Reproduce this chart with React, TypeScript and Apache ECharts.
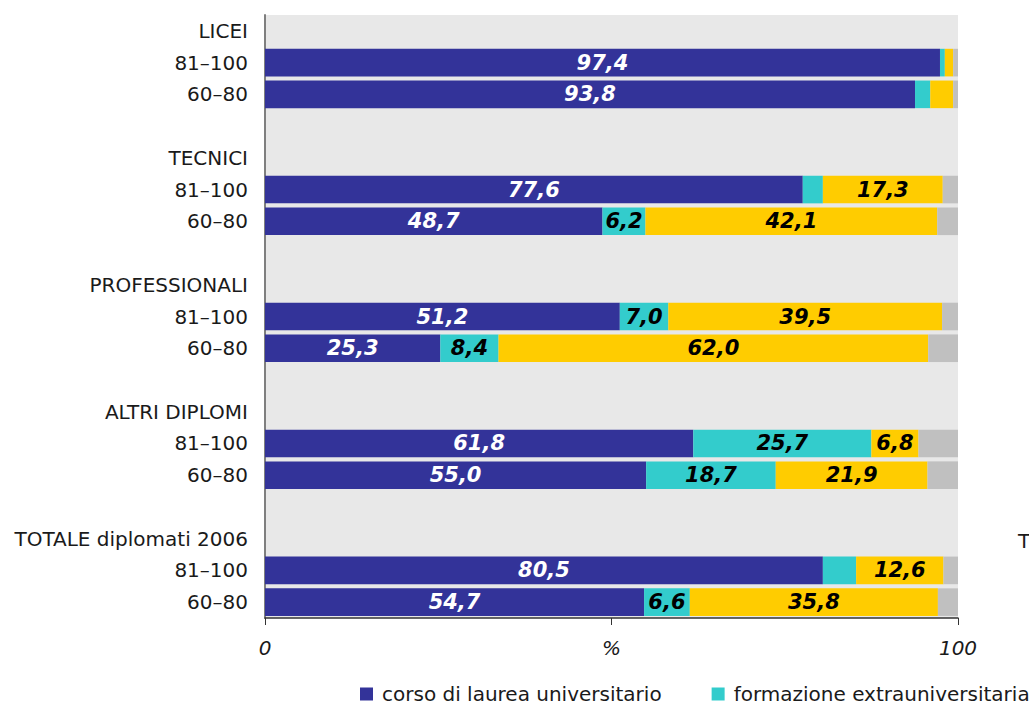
import React, { useEffect, useRef } from "react";
import * as echarts from "echarts";

const categories = [
  "LICEI", "81–100", "60–80", " ",
  "TECNICI", "81–100 ", "60–80 ", "  ",
  "PROFESSIONALI", "81–100  ", "60–80  ", "   ",
  "ALTRI DIPLOMI", "81–100   ", "60–80   ", "    ",
  "TOTALE diplomati 2006", "81–100    ", "60–80    ",
];

const N = null;
const universita = [N, 97.4, 93.8, N, N, 77.6, 48.7, N, N, 51.2, 25.3, N, N, 61.8, 55.0, N, N, 80.5, 54.7];
const formazione = [N, 0.7, 2.2, N, N, 2.9, 6.2, N, N, 7.0, 8.4, N, N, 25.7, 18.7, N, N, 4.8, 6.6];
const lavoro = [N, 1.2, 3.3, N, N, 17.3, 42.1, N, N, 39.5, 62.0, N, N, 6.8, 21.9, N, N, 12.6, 35.8];
const nonIndica = [N, 0.7, 0.7, N, N, 2.2, 3.0, N, N, 2.3, 4.3, N, N, 5.7, 4.4, N, N, 2.1, 2.9];

const seriesNames = [
  "corso di laurea universitario",
  "formazione extrauniversitaria",
  "lavoro",
  "non indica",
];
const colors = ["#333399", "#33CCCC", "#FFCC00", "#C0C0C0"];
const xTickLabels: Record<number, string> = { 0: "0", 50: "%", 100: "100" };

const FONT = "'DejaVu Sans', Verdana, sans-serif";

function fmt(v: number) {
  return v.toFixed(1).replace(".", ",");
}

export default function App() {
  const ref = useRef<HTMLDivElement>(null);
  useEffect(() => {
    if (!ref.current) return;
    const chart = echarts.init(ref.current, undefined, { renderer: "svg" });
    const mk = (idx: number, data: (number | null)[], labelColor: string, minLabel: number, showLabel: boolean) => ({
      name: seriesNames[idx],
      type: "bar",
      stack: "total",
      data,
      barWidth: "87%",
      itemStyle: { color: colors[idx] },
      label: {
        show: showLabel,
        position: "inside",
        color: labelColor,
        fontFamily: FONT,
        fontSize: 21,
        fontWeight: "bold",
        fontStyle: "italic",
        formatter: (p: any) => (p.value != null && p.value >= minLabel ? fmt(p.value) : ""),
      },
      emphasis: { disabled: true },
    });
    chart.setOption({
      animation: false,
      textStyle: { fontFamily: FONT },
      grid: {
        left: 265,
        right: 71,
        top: 15,
        bottom: 87,
        show: true,
        backgroundColor: "#E8E8E8",
        borderWidth: 0,
      },
      legend: {
        left: 355,
        top: 679,
        width: 3000,
        itemWidth: 13,
        itemHeight: 13,
        itemGap: 50,
        icon: "rect",
        data: seriesNames,
        textStyle: { fontFamily: FONT, fontSize: 20, color: "#1a1a1a", padding: [0, 0, 0, 4] },
      },
      xAxis: {
        type: "value",
        min: 0,
        max: 100,
        interval: 50,
        splitLine: { show: false },
        axisLine: { show: true, lineStyle: { color: "#333", width: 1.5 } },
        axisTick: { show: true, length: 7, lineStyle: { color: "#333" } },
        axisLabel: {
          margin: 20,
          fontFamily: FONT,
          fontSize: 20,
          fontStyle: "italic",
          color: "#1a1a1a",
          formatter: (v: number) => xTickLabels[v] ?? "",
        },
      },
      yAxis: {
        type: "category",
        inverse: true,
        data: categories,
        axisLine: { show: true, lineStyle: { color: "#7f7f7f", width: 2 } },
        axisTick: { show: false },
        axisLabel: {
          margin: 17,
          fontFamily: FONT,
          fontSize: 20,
          color: "#1a1a1a",
          formatter: (v: string) => v.trim(),
        },
      },
      graphic: [
        {
          type: "text",
          left: 1018,
          top: 531,
          style: { text: "TOTALE diplomati 2006", font: `20px ${FONT}`, fill: "#1a1a1a" },
        },
      ],
      series: [
        mk(0, universita, "#ffffff", 0, true),
        mk(1, formazione, "#000000", 5, true),
        mk(2, lavoro, "#000000", 5, true),
        mk(3, nonIndica, "#000000", 100, false),
      ],
    });
    return () => chart.dispose();
  }, []);
  return (
    <div
      ref={ref}
      style={{ position: "fixed", left: 0, top: 0, width: 1029, height: 705, background: "#fff" }}
    />
  );
}
